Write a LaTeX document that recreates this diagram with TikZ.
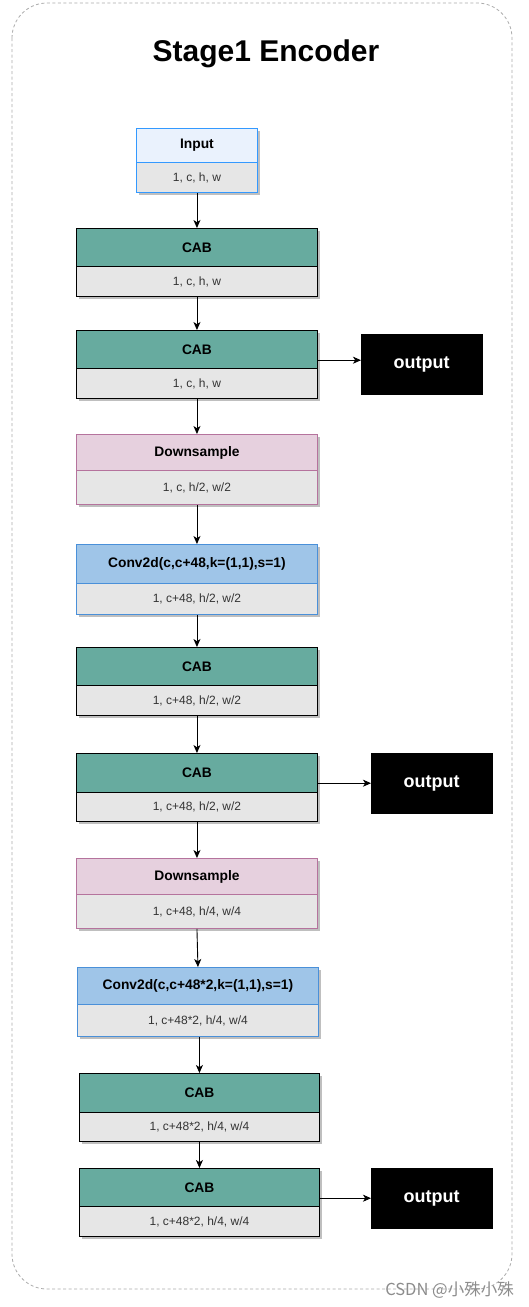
\documentclass[tikz,border=0pt]{standalone}
\usepackage{fontspec}
\setmainfont{Liberation Sans}
\newfontfamily\cjk{Noto Sans CJK SC}
\usetikzlibrary{arrows.meta,shadows,calc}
\definecolor{cabfill}{HTML}{67AB9F}
\definecolor{grayfill}{HTML}{E6E6E6}
\definecolor{inpfill}{HTML}{EAF2FD}
\definecolor{inpdraw}{HTML}{3399FF}
\definecolor{dsfill}{HTML}{E6D0DE}
\definecolor{dsdraw}{HTML}{B5739D}
\definecolor{cvfill}{HTML}{9FC5E8}
\definecolor{cvdraw}{HTML}{4A90D9}
\definecolor{subtext}{HTML}{333333}
\definecolor{framegray}{HTML}{AAAAAA}
\tikzset{
  part/.style={rectangle, inner sep=0pt, line width=0.9pt, anchor=north west,
    drop shadow={shadow xshift=3pt, shadow yshift=-3pt, fill=black!25, opacity=1}},
  headtxt/.style={font=\bfseries\fontsize{13.8}{15}\selectfont, text=black},
  subtxt/.style={font=\fontsize{12}{14}\selectfont, text=subtext},
  cabhead/.style={part, headtxt, fill=cabfill, draw=black},
  cabsub/.style={part, subtxt, fill=grayfill, draw=black},
  inphead/.style={part, headtxt, fill=inpfill, draw=inpdraw},
  inpsub/.style={part, subtxt, fill=grayfill, draw=inpdraw},
  dshead/.style={part, headtxt, fill=dsfill, draw=dsdraw},
  dssub/.style={part, subtxt, fill=grayfill, draw=dsdraw},
  cvhead/.style={part, headtxt, fill=cvfill, draw=cvdraw},
  cvsub/.style={part, subtxt, fill=grayfill, draw=cvdraw},
  outbox/.style={rectangle, fill=black, draw=black, text=white, anchor=north west,
    font=\bfseries\fontsize{18}{20}\selectfont, minimum width=121pt, minimum height=60pt, inner sep=0pt},
  arr/.style={-{Stealth[length=8pt,width=7pt,inset=2.2pt]}, line width=0.9pt, draw=black},
}
% #1 name, #2 style prefix, #3 x-left, #4 y-top, #5 y-div, #6 y-bottom, #7 width, #8 title, #9 sub
\newcommand\twoblk[9]{%
  \node[#2head, minimum width=#7pt, minimum height={(#5-#4)*1pt}] (#1) at (#3,#4) {#8};
  \node[#2sub, minimum width=#7pt, minimum height={(#6-#5)*1pt}] (#1b) at (#3,#5) {#9};
}
\begin{document}
\begin{tikzpicture}[x=1pt,y=-1pt]
\useasboundingbox (0,0) rectangle (529,1307);
\fill[white] (0,0) rectangle (529,1307);
\draw[framegray, line width=0.8pt, dash pattern=on 3pt off 2.5pt, rounded corners=35pt] (12,3) rectangle (512,1289);
\node[font=\bfseries\fontsize{30}{32}\selectfont] (title) at (266,54) {Stage1 Encoder};

\twoblk{inp}{inp}{136}{128}{162}{192}{121}{Input}{1, c, h, w}
\twoblk{cabA}{cab}{76}{228}{266}{296}{241}{CAB}{1, c, h, w}
\twoblk{cabB}{cab}{76}{330}{368}{398}{241}{CAB}{1, c, h, w}
\twoblk{dsA}{ds}{76}{434}{470}{504}{241}{Downsample}{1, c, h/2, w/2}
\twoblk{cvA}{cv}{76}{544}{583}{614}{241}{Conv2d(c,c+48,k=(1,1),s=1)}{1, c+48, h/2, w/2}
\twoblk{cabC}{cab}{76}{647}{685}{715}{241}{CAB}{1, c+48, h/2, w/2}
\twoblk{cabD}{cab}{76}{753}{792}{821}{241}{CAB}{1, c+48, h/2, w/2}
\twoblk{dsB}{ds}{76}{858}{894}{928}{241}{Downsample}{1, c+48, h/4, w/4}
\twoblk{cvB}{cv}{77}{967}{1004}{1036}{241}{Conv2d(c,c+48*2,k=(1,1),s=1)}{1, c+48*2, h/4, w/4}
\twoblk{cabE}{cab}{79}{1073}{1112}{1141}{240}{CAB}{1, c+48*2, h/4, w/4}
\twoblk{cabF}{cab}{79}{1168}{1206}{1236}{240}{CAB}{1, c+48*2, h/4, w/4}

\node[outbox] (outA) at (361,334) {output};
\node[outbox] (outB) at (371,753) {output};
\node[outbox] (outC) at (371,1168) {output};

\draw[arr] (inpb.south) -- (cabA.north);
\draw[arr] (cabAb.south) -- (cabB.north);
\draw[arr] (cabBb.south) -- (dsA.north);
\draw[arr] (dsAb.south) -- (cvA.north);
\draw[arr] (cvAb.south) -- (cabC.north);
\draw[arr] (cabCb.south) -- (cabD.north);
\draw[arr] (cabDb.south) -- (dsB.north);
\draw[arr] (dsBb.south) -- (cvB.north);
\draw[arr] (cabE.north |- cvBb.south) -- (cabE.north);
\draw[arr] (cabEb.south) -- (cabF.north);

\draw[arr] ([yshift=4pt]outA.west -| cabB.east) -- ([yshift=4pt]outA.west);
\draw[arr] (outB.west -| cabD.east) -- (outB.west);
\draw[arr] (outC.west -| cabF.east) -- (outC.west);

\node[font=\cjk\fontsize{16.5}{17}\selectfont, text=black!45, anchor=east, inner sep=0pt] (wm) at (514,1290) {CSDN @小殊小殊};
\end{tikzpicture}
\end{document}
